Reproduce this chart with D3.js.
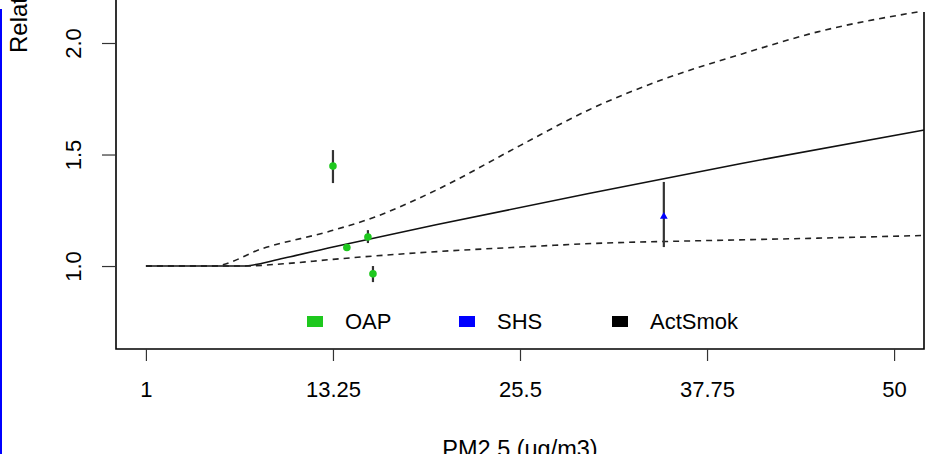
<!DOCTYPE html>
<html>
<head>
<meta charset="utf-8">
<script src="https://cdn.jsdelivr.net/npm/d3@7"></script>
<style>
  body { margin: 0; background: #fff; }
  svg { display: block; font-family: "Liberation Sans", Arial, sans-serif; }
</style>
</head>
<body>
<svg id="chart" width="941" height="454"></svg>
<script>
// x ticks on the PM2.5 axis
const xTicks = [1, 13.25, 25.5, 37.75, 50];
const yTicks = [1.0, 1.5, 2.0];

// central risk curve (solid)
const curveX = [1, 4, 7.3, 10, 13.25, 20, 30, 40, 52];
const curveY = [1.0, 1.0, 1.0, 1.035, 1.085, 1.185, 1.325, 1.46, 1.61];

// upper bound (dashed)
const upperX = [1, 5.4, 8.7, 13.25, 16, 20, 25.5, 30, 35, 40, 45, 51.6];
const upperY = [1.0, 1.0, 1.08, 1.16, 1.22, 1.34, 1.54, 1.70, 1.84, 1.95, 2.05, 2.14];

// lower bound (dashed)
const lowerX = [1, 7.3, 10, 13.25, 19, 25.5, 31, 36.3, 45, 51.9];
const lowerY = [1.0, 1.0, 1.01, 1.03, 1.06, 1.085, 1.103, 1.112, 1.125, 1.137];

// study estimates with intervals
const studyGroup = ["OAP", "OAP", "OAP", "OAP", "SHS"];
const studyPM = [13.25, 14.16, 15.54, 15.87, 34.92];
const studyRR = [1.448, 1.083, 1.13, 0.965, 1.222];
const studyLo = [1.372, 1.075, 1.103, 0.928, 1.085];
const studyHi = [1.52, 1.09, 1.161, 1.0, 1.377];

const legendLabels = ["OAP", "SHS", "ActSmok"];
const groupColors = { OAP: "#1ec81e", SHS: "#0000ff", ActSmok: "#000000" };

const svg = d3.select("#chart");
const plot = { left: 116, right: 924, top: 12, bottom: 349 };

const x = d3.scaleLinear().domain([-0.96, 51.96]).range([plot.left, plot.right]);
const y = d3.scaleLinear().domain([0.628, 2.139]).range([plot.bottom, plot.top]);

svg.append("clipPath").attr("id", "clip")
  .append("rect")
  .attr("x", plot.left).attr("y", 0)
  .attr("width", plot.right - plot.left).attr("height", plot.bottom);

// blue edge line on the far left
svg.append("line")
  .attr("x1", 1).attr("x2", 1).attr("y1", 9).attr("y2", 454)
  .attr("stroke", "#0000ff").attr("stroke-width", 2);

// frame (top is cut off)
svg.append("path")
  .attr("d", `M${plot.left},0 V${plot.bottom} H${plot.right} V${plot.top}`)
  .attr("fill", "none").attr("stroke", "#000").attr("stroke-width", 1.6);

// axes
const xAxis = d3.axisBottom(x).tickValues(xTicks).tickSize(12).tickPadding(20)
  .tickFormat(d => String(d));
const xg = svg.append("g").attr("transform", `translate(0,${plot.bottom})`).call(xAxis);
xg.select(".domain").remove();
xg.selectAll(".tick line").attr("stroke", "#333").attr("stroke-width", 1.2);
xg.selectAll(".tick text").attr("font-size", 22).attr("fill", "#000")
  .attr("font-family", "Liberation Sans, Arial, sans-serif");

const yAxis = d3.axisLeft(y).tickValues(yTicks).tickSize(14).tickFormat(d3.format(".1f"));
const yg = svg.append("g").attr("transform", `translate(${plot.left},0)`).call(yAxis);
yg.select(".domain").remove();
yg.selectAll(".tick line").attr("stroke", "#333").attr("stroke-width", 1.2);
yg.selectAll(".tick text")
  .attr("font-size", 22).attr("fill", "#000")
  .attr("font-family", "Liberation Sans, Arial, sans-serif")
  .attr("text-anchor", "middle")
  .attr("x", null).attr("dy", null)
  .attr("transform", "translate(-35,0) rotate(-90)")
  .attr("y", 0);

// axis titles
svg.append("text")
  .attr("x", (x(1) + x(50)) / 2).attr("y", 457)
  .attr("text-anchor", "middle").attr("font-size", 23.5)
  .text("PM2.5 (ug/m3)");
svg.append("text")
  .attr("transform", "translate(27,53) rotate(-90)")
  .attr("text-anchor", "start").attr("font-size", 24)
  .text("Relative Risk");

// curves
const line = d3.line().x(d => x(d[0])).y(d => y(d[1])).curve(d3.curveMonotoneX);
const curves = svg.append("g").attr("clip-path", "url(#clip)");
curves.append("path").datum(d3.zip(curveX, curveY))
  .attr("d", line).attr("fill", "none").attr("stroke", "#111").attr("stroke-width", 1.6);
[[upperX, upperY], [lowerX, lowerY]].forEach(([xs, ys]) => {
  curves.append("path").datum(d3.zip(xs, ys))
    .attr("d", line).attr("fill", "none").attr("stroke", "#222")
    .attr("stroke-width", 1.6).attr("stroke-dasharray", "6,5");
});

// study points and intervals
const studies = studyPM.map((v, i) => ({
  pm: v, rr: studyRR[i], lo: studyLo[i], hi: studyHi[i], group: studyGroup[i]
}));
svg.append("g").selectAll("line").data(studies).join("line")
  .attr("x1", d => x(d.pm)).attr("x2", d => x(d.pm))
  .attr("y1", d => y(d.lo)).attr("y2", d => y(d.hi))
  .attr("stroke", "#333").attr("stroke-width", 2.2);
svg.append("g").selectAll("circle").data(studies.filter(d => d.group === "OAP")).join("circle")
  .attr("cx", d => x(d.pm)).attr("cy", d => y(d.rr)).attr("r", 3.8)
  .attr("fill", groupColors.OAP);
svg.append("g").selectAll("path").data(studies.filter(d => d.group === "SHS")).join("path")
  .attr("transform", d => `translate(${x(d.pm)},${y(d.rr)})`)
  .attr("d", d3.symbol().type(d3.symbolTriangle).size(26))
  .attr("fill", groupColors.SHS);

// legend
const legendX = [307, 459, 612];
const lg = svg.append("g");
legendLabels.forEach((lab, i) => {
  lg.append("rect").attr("x", legendX[i]).attr("y", 316)
    .attr("width", 16).attr("height", 11).attr("fill", groupColors[lab]);
  lg.append("text").attr("x", legendX[i] + 38).attr("y", 329)
    .attr("font-size", 22).text(lab);
});
</script>
</body>
</html>
